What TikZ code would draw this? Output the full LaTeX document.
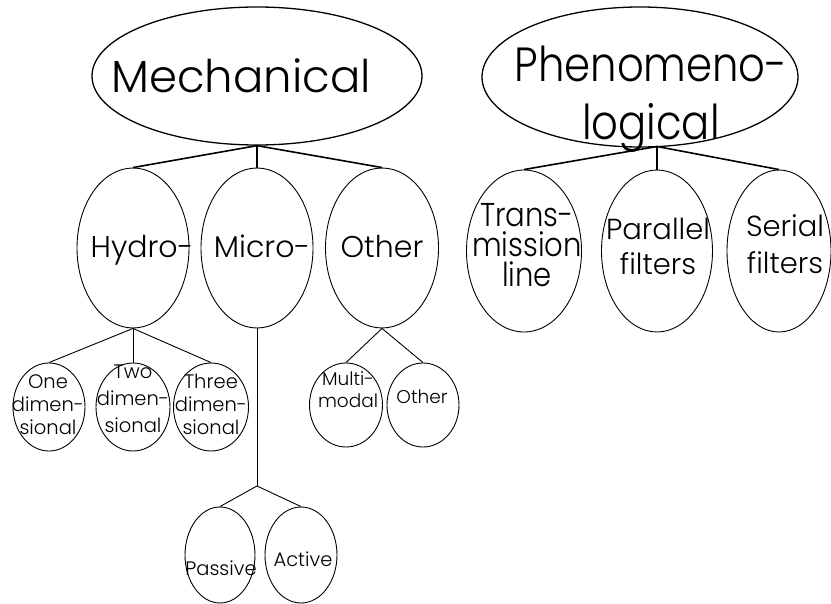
\documentclass[tikz,border=0pt]{standalone}
\usepackage{fontspec}
\setmainfont{Poppins Light}
\usetikzlibrary{shapes.geometric}
\newcommand\fsz[2]{\fontsize{#1}{#2}\selectfont}
\tikzset{
  ell/.style={draw, ellipse, inner sep=0pt, line width=0.9pt},
  bigell/.style={ell, line width=1.3pt},
  lbl/.style={inner sep=0pt, anchor=base, align=center},
  thickcon/.style={line width=1.6pt},
  thincon/.style={line width=0.9pt},
}
\begin{document}
\begin{tikzpicture}[x=1pt,y=-1pt]
\useasboundingbox (0,0) rectangle (831,604);
% top level
\node[bigell, minimum width=330pt, minimum height=138pt] (mech) at (257,76) {};
\node[bigell, minimum width=316pt, minimum height=140pt] (phen) at (640,77) {};
\node[lbl, font=\fsz{45}{50}] (mecht) at (241,93) {Mechanical};
\node[lbl, font=\fsz{48}{58}\addfontfeature{FakeStretch=0.87}] (phent) at (651,140) {Phenomeno-\\logical};
% second level, mechanical
\node[ell, minimum width=112pt, minimum height=160pt] (hydro) at (133,248) {};
\node[ell, minimum width=112pt, minimum height=160pt] (micro) at (257,248) {};
\node[ell, minimum width=113pt, minimum height=160pt] (other) at (382,248) {};
\node[lbl, font=\fsz{30}{34}] (hydrot) at (142,258) {Hydro-};
\node[lbl, font=\fsz{30}{34}] (microt) at (262,258) {Micro-};
\node[lbl, font=\fsz{30}{34}] (othert) at (382,258) {Other};
% second level, phenomenological
\node[ell, minimum width=115pt, minimum height=162pt] (trans) at (524,251) {};
\node[ell, minimum width=111pt, minimum height=162pt] (par) at (657,251) {};
\node[ell, minimum width=104pt, minimum height=162pt] (ser) at (779,251) {};
\node[lbl, font=\fsz{33}{30}\addfontfeature{FakeStretch=0.88}] (transt) at (527,287) {Trans-\\mission\\line};
\node[lbl, font=\fsz{29}{35}] (part) at (658,275) {Parallel\\filters};
\node[lbl, font=\fsz{29}{37}] (sert) at (785,274) {Serial\\filters};
% third level, hydro
\node[ell, minimum width=72pt, minimum height=88pt] (one) at (49,407) {};
\node[ell, minimum width=74pt, minimum height=88pt] (two) at (133,407) {};
\node[ell, minimum width=75pt, minimum height=88pt] (three) at (211,407) {};
\node[lbl, font=\fsz{19.5}{23.5}] (onet) at (48,435) {One\\dimen-\\sional};
\node[lbl, font=\fsz{19.5}{27}] (twot) at (133,432) {Two\\dimen-\\sional};
\node[lbl, font=\fsz{19.5}{23.5}] (threet) at (211,435) {Three\\dimen-\\sional};
% third level, other
\node[ell, minimum width=73pt, minimum height=84pt] (multi) at (346,405) {};
\node[ell, minimum width=72pt, minimum height=84pt] (oth) at (423,405) {};
\node[lbl, font=\fsz{18.5}{21}] (multit) at (348,407) {Multi-\\modal};
\node[lbl, font=\fsz{18.5}{21}] (otht) at (422,403) {Other};
% third level, micro
\node[ell, minimum width=70pt, minimum height=96pt] (passive) at (220,555) {};
\node[ell, minimum width=72pt, minimum height=96pt] (active) at (301,555) {};
\node[lbl, font=\fsz{19.5}{23}] (passivet) at (221,575) {Passive};
\node[lbl, font=\fsz{19.5}{23}] (activet) at (303,566) {Active};
% junctions
\coordinate (phj) at (657,146.5);
\coordinate (mj) at (257,486);
% connectors
\draw[thickcon] (mech.south) -- (hydro.north);
\draw[thickcon] (mech.south) -- (micro.north);
\draw[thickcon] (mech.south) -- (other.north);
\draw[thickcon] (phj) -- (trans.north);
\draw[thickcon] (phj) -- (par.north);
\draw[thickcon] (phj) -- (ser.north);
\draw[thincon] (hydro.south) -- (one.north);
\draw[thincon] (hydro.south) -- (two.north);
\draw[thincon] (hydro.south) -- (three.north);
\draw[thincon] (other.south) -- (multi.north);
\draw[thincon] (other.south) -- (oth.north);
\draw[thincon] (micro.south) -- (mj);
\draw[thincon] (mj) -- (passive.north);
\draw[thincon] (mj) -- (active.north);
\end{tikzpicture}
\end{document}
